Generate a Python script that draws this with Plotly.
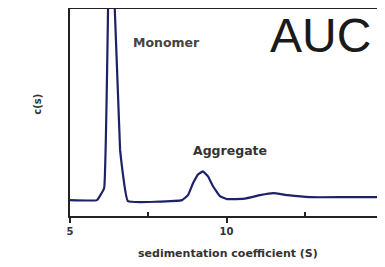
import plotly.graph_objects as go

# sedimentation coefficient (S) and c(s) (arbitrary units)
s_values = [5.0, 5.86, 6.09, 6.28, 6.60, 6.85, 8.58, 8.77, 8.93, 9.09, 9.25, 9.41, 9.57, 9.79,
            10.02, 10.59, 11.07, 11.49, 11.96, 12.67, 13.8, 15.0]
cs_values = [0, 0, 12, 322, 51, -1, 0, 5, 17, 26, 29, 24, 14, 4,
             1, 1.5, 5, 7, 5, 3, 3, 3]

x_ticks = [5, 10, 15]
x_minor = [7.5, 12.5]

fig = go.Figure()
fig.add_trace(go.Scatter(x=s_values, y=cs_values, mode="lines",
                         line=dict(color="#1c2168", width=2.2, shape="spline", smoothing=0.25),
                         hoverinfo="skip"))

BOLD = "DejaVu Sans"

fig.update_layout(
    width=377, height=259,
    margin=dict(l=62, r=2, t=1, b=51, autoexpand=False),
    paper_bgcolor="white", plot_bgcolor="white",
    showlegend=False,
    font=dict(family=BOLD, color="#333"),
    xaxis=dict(range=[5, 15], tickvals=x_ticks, ticktext=["<b>5</b>", "<b>10</b>", "<b>15</b>"],
               showgrid=False, zeroline=False, showline=True, linecolor="#222", linewidth=2,
               mirror=True, ticks="outside", ticklen=5, tickwidth=2, tickcolor="#222",
               minor=dict(tickvals=x_minor, ticks="inside", ticklen=4, tickwidth=2, tickcolor="#222"),
               tickfont=dict(size=10, color="#333", family=BOLD), automargin=False),
    yaxis=dict(range=[-16, 193], showticklabels=False, ticks="", showgrid=False, zeroline=False,
               showline=True, linecolor="#222", linewidth=2, mirror=True, automargin=False),
)

fig.add_annotation(xref="paper", yref="paper", x=0.505, y=0, yshift=-37, yanchor="middle",
                   text="<b>sedimentation coefficient (S)</b>", showarrow=False,
                   font=dict(size=11, color="#333", family=BOLD))
fig.add_annotation(xref="paper", yref="paper", x=0, xshift=-40, y=0.54, textangle=-90,
                   text="<b>c(s)</b>", showarrow=False, font=dict(size=10, color="#333", family=BOLD))
fig.add_annotation(x=6.95, y=158.7, text="<b>Monomer</b>", showarrow=False,
                   font=dict(size=12.5, color="#444", family=BOLD), xanchor="left")
fig.add_annotation(x=10.1, y=50.6, text="<b>Aggregate</b>", showarrow=False,
                   font=dict(size=12.5, color="#333", family=BOLD))
fig.add_annotation(x=12.99, y=166, text="AUC", showarrow=False,
                   font=dict(size=48, color="#1a1a1a", family="Liberation Sans"))

fig.write_html("out.html")
